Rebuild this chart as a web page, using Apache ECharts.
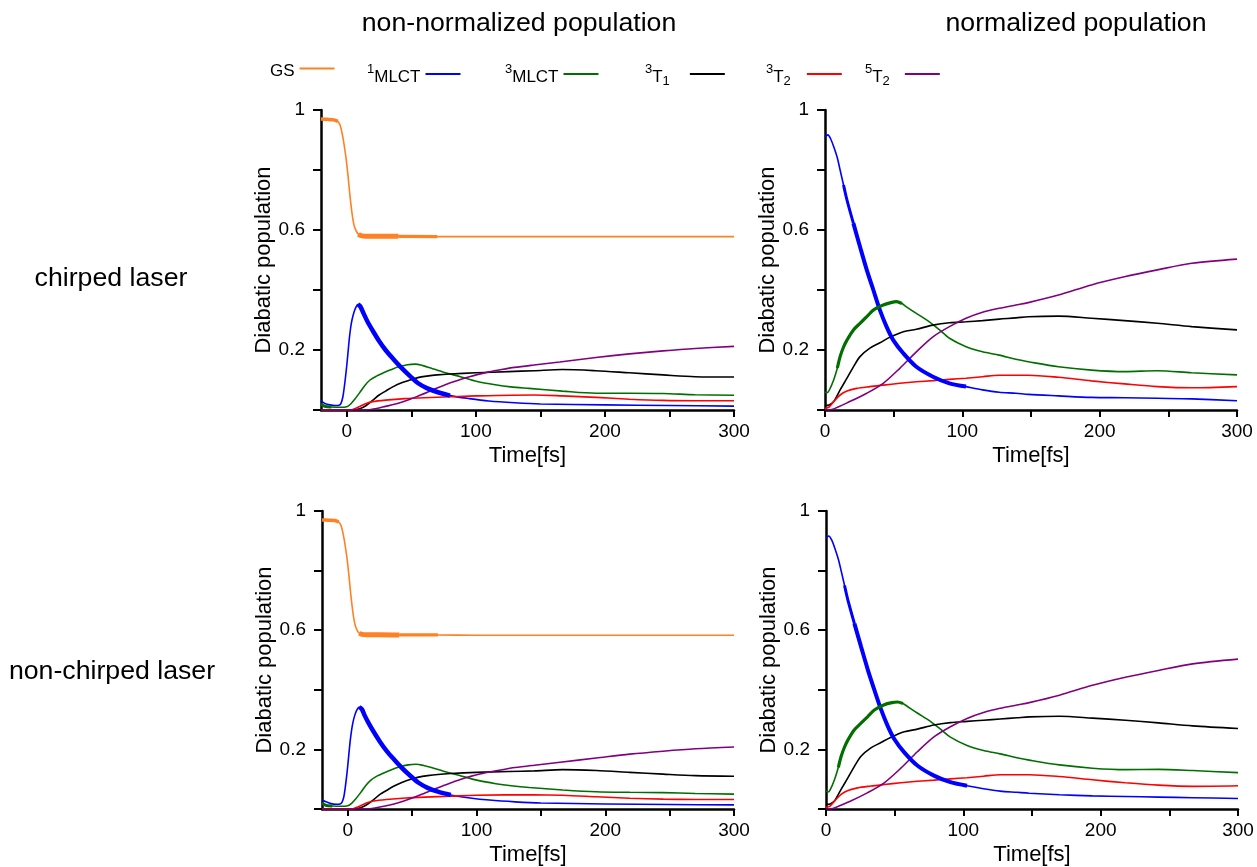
<!DOCTYPE html>
<html>
<head>
<meta charset="utf-8">
<script src="https://cdn.jsdelivr.net/npm/echarts@6/dist/echarts.min.js"></script>
<style>
  html, body { margin: 0; padding: 0; background: #fff; }
  #chart { width: 1257px; height: 867px; }
</style>
</head>
<body>
<div id="chart"></div>
<script>
// ---------- data: [time (fs), diabatic population] ----------

// chirped laser, non-normalized
const gsChirpRaw = [[-20,0.97],[-15,0.969],[-10,0.967],[-7,0.962],[-5,0.947],[-3,0.908],[-1,0.852],[0,0.818],[1,0.778],[2,0.733],[3,0.692],[4,0.657],[5,0.629],[6,0.61],[7.5,0.595],[9,0.586],[11,0.581],[15,0.579],[25,0.579],[40,0.579],[70,0.578],[100,0.578],[200,0.578],[300,0.578]];
const mlct1ChirpRaw = [[-20,0.031],[-17,0.022],[-13,0.017],[-9,0.015],[-6,0.016],[-4.5,0.022],[-3,0.045],[-2,0.075],[-1,0.11],[0,0.15],[1,0.195],[2,0.24],[3,0.275],[4,0.3],[5.5,0.325],[7,0.342],[8.7,0.352],[10.5,0.345],[13,0.322],[16,0.295],[20,0.265],[25,0.23],[30,0.2],[36,0.17],[42,0.142],[49,0.113],[55,0.09],[62,0.073],[70,0.06],[80,0.048],[95,0.038],[110,0.03],[130,0.024],[150,0.02],[200,0.017],[250,0.015],[300,0.013]];
const mlct3ChirpRaw = [[-20,0.02],[-17,0.012],[-12,0.01],[-5,0.009],[0,0.011],[3,0.02],[6,0.035],[10,0.058],[14,0.082],[18,0.1],[23,0.113],[28,0.123],[34,0.134],[40,0.144],[47,0.151],[53,0.153],[59,0.148],[65,0.14],[75,0.126],[88,0.111],[101,0.095],[115,0.084],[127,0.077],[141,0.072],[167,0.063],[193,0.056],[219,0.056],[245,0.055],[270,0.051],[300,0.049]];
const t1ChirpRaw = [[-20,0],[5,0],[10,0.004],[15,0.015],[20,0.032],[25,0.05],[30,0.063],[36,0.078],[42,0.09],[49,0.1],[55,0.108],[62,0.113],[70,0.117],[80,0.12],[100,0.124],[125,0.128],[145,0.131],[167,0.135],[193,0.131],[219,0.124],[245,0.117],[270,0.111],[300,0.11]];
const t2ChirpRaw = [[-20,0],[3,0],[6,0.004],[10,0.012],[15,0.022],[20,0.028],[30,0.033],[45,0.038],[60,0.041],[80,0.044],[100,0.047],[145,0.05],[167,0.047],[193,0.042],[219,0.036],[245,0.032],[270,0.031],[300,0.031]];
const q2ChirpRaw = [[-20,0],[15,0],[23,0.005],[30,0.012],[36,0.018],[43,0.027],[49,0.036],[55,0.046],[62,0.058],[68,0.07],[75,0.082],[82,0.093],[88,0.102],[95,0.111],[101,0.118],[110,0.127],[120,0.135],[130,0.142],[145,0.15],[165,0.16],[193,0.175],[219,0.187],[245,0.197],[270,0.205],[300,0.212]];

// chirped laser, normalized
const mlct1ChirpNorm = [[0,0.91],[2,0.917],[4,0.905],[6.3,0.878],[9,0.84],[11,0.8],[13.5,0.75],[16,0.7],[20.7,0.622],[25.5,0.544],[30.4,0.467],[35.2,0.4],[40,0.333],[44.8,0.278],[49.7,0.233],[57,0.189],[66.5,0.144],[78.6,0.111],[90.6,0.089],[102.7,0.078],[114.7,0.067],[126.8,0.059],[139,0.056],[148,0.052],[170,0.047],[194,0.042],[218,0.041],[242,0.039],[267,0.037],[300,0.031]];
const mlct3ChirpNorm = [[0,0.06],[1.5,0.058],[3,0.065],[6.3,0.1],[9,0.14],[11,0.178],[13.5,0.21],[16,0.233],[20.7,0.267],[25.5,0.289],[30.4,0.311],[35.2,0.333],[42.4,0.35],[48,0.358],[52,0.361],[56,0.355],[59.3,0.344],[66.5,0.322],[76,0.294],[83.4,0.267],[90.6,0.239],[102.7,0.211],[114.7,0.194],[126.8,0.183],[139,0.169],[148,0.161],[170,0.144],[194,0.133],[218,0.128],[242,0.131],[267,0.124],[300,0.117]];
const t1ChirpNorm = [[0,0.015],[3,0.017],[6.3,0.028],[11,0.067],[16,0.106],[20.7,0.144],[25.5,0.178],[32.7,0.206],[40,0.224],[47,0.242],[57,0.261],[66.5,0.269],[78.6,0.283],[90.6,0.291],[102.7,0.294],[114.7,0.298],[126.8,0.303],[139,0.307],[148,0.311],[170,0.313],[194,0.306],[218,0.298],[242,0.289],[267,0.278],[300,0.267]];
const t2ChirpNorm = [[0,0.005],[3,0.01],[6.3,0.028],[11,0.05],[16,0.063],[23,0.072],[32.7,0.078],[42.4,0.083],[54.5,0.089],[66.5,0.094],[78.6,0.098],[90.6,0.102],[102.7,0.106],[114.7,0.111],[126.8,0.116],[148,0.116],[170,0.109],[194,0.097],[218,0.087],[242,0.078],[267,0.074],[300,0.078]];
const q2ChirpNorm = [[0,0],[5,0.002],[18,0.028],[30.4,0.056],[42.4,0.089],[54.5,0.139],[66.5,0.194],[78.6,0.244],[90.6,0.278],[102.7,0.306],[114.7,0.326],[126.8,0.339],[139,0.35],[148,0.358],[170,0.383],[194,0.417],[218,0.444],[242,0.467],[267,0.489],[300,0.503]];

// non-chirped laser, non-normalized
const gsPlainRaw = [[-20,0.97],[-15,0.969],[-10,0.968],[-7,0.963],[-5,0.948],[-3,0.91],[-1,0.855],[0,0.82],[1,0.78],[2,0.735],[3,0.695],[4,0.66],[5,0.632],[6,0.613],[7.5,0.598],[9,0.59],[11,0.586],[15,0.585],[25,0.585],[40,0.584],[70,0.584],[100,0.583],[200,0.583],[300,0.583]];
const mlct1PlainRaw = [[-20,0.031],[-17,0.024],[-13,0.018],[-9,0.016],[-6,0.017],[-4.5,0.022],[-3,0.042],[-2,0.07],[-1,0.105],[0,0.145],[1,0.19],[2,0.232],[3,0.265],[4,0.29],[5.5,0.315],[7,0.332],[9,0.342],[11,0.335],[13,0.315],[16,0.29],[20,0.26],[25,0.226],[30,0.196],[36,0.166],[42,0.138],[49,0.11],[55,0.088],[62,0.071],[70,0.058],[80,0.047],[95,0.037],[110,0.03],[130,0.024],[150,0.02],[200,0.017],[250,0.015],[300,0.014]];
const mlct3PlainRaw = [[-20,0.02],[-17,0.012],[-12,0.01],[-5,0.009],[0,0.011],[3,0.019],[6,0.033],[10,0.055],[14,0.079],[18,0.097],[23,0.111],[28,0.121],[34,0.132],[40,0.141],[47,0.148],[53,0.15],[59,0.146],[65,0.139],[75,0.126],[88,0.111],[101,0.096],[115,0.085],[127,0.078],[141,0.072],[167,0.064],[193,0.058],[219,0.056],[245,0.055],[270,0.052],[300,0.05]];
const t1PlainRaw = [[-20,0],[5,0],[10,0.004],[15,0.015],[20,0.031],[25,0.049],[30,0.062],[36,0.077],[42,0.089],[49,0.1],[55,0.107],[62,0.112],[70,0.116],[80,0.119],[100,0.123],[125,0.126],[145,0.128],[167,0.132],[193,0.129],[219,0.123],[245,0.117],[270,0.112],[300,0.11]];
const t2PlainRaw = [[-20,0],[3,0],[6,0.004],[10,0.011],[15,0.021],[20,0.027],[30,0.032],[45,0.037],[60,0.04],[80,0.043],[100,0.046],[145,0.048],[167,0.046],[193,0.041],[219,0.036],[245,0.033],[270,0.032],[300,0.032]];
const q2PlainRaw = [[-20,0],[15,0],[23,0.005],[30,0.011],[36,0.017],[43,0.026],[49,0.035],[55,0.045],[62,0.057],[68,0.068],[75,0.08],[82,0.091],[88,0.1],[95,0.109],[101,0.116],[110,0.124],[120,0.132],[130,0.139],[145,0.147],[165,0.157],[193,0.171],[219,0.184],[245,0.194],[270,0.202],[300,0.208]];

// non-chirped laser, normalized
const mlct1PlainNorm = [[0,0.91],[2,0.916],[4,0.904],[6.3,0.877],[9,0.838],[11,0.8],[13.5,0.75],[16,0.7],[20.7,0.622],[25.5,0.545],[30.4,0.468],[35.2,0.4],[40,0.335],[44.8,0.28],[49.7,0.235],[57,0.19],[66.5,0.146],[78.6,0.112],[90.6,0.09],[102.7,0.078],[114.7,0.068],[126.8,0.06],[139,0.056],[148,0.053],[170,0.048],[194,0.044],[218,0.042],[242,0.04],[267,0.038],[300,0.035]];
const mlct3PlainNorm = [[0,0.06],[1.5,0.057],[3,0.064],[6.3,0.1],[9,0.14],[11,0.176],[13.5,0.208],[16,0.232],[20.7,0.266],[25.5,0.288],[30.4,0.31],[35.2,0.332],[42.4,0.35],[48,0.357],[52,0.359],[56,0.354],[59.3,0.344],[66.5,0.322],[76,0.294],[83.4,0.268],[90.6,0.241],[102.7,0.213],[114.7,0.196],[126.8,0.185],[139,0.172],[148,0.164],[170,0.148],[194,0.137],[218,0.132],[242,0.133],[267,0.129],[300,0.122]];
const t1PlainNorm = [[0,0.015],[3,0.017],[6.3,0.028],[11,0.066],[16,0.105],[20.7,0.143],[25.5,0.177],[32.7,0.205],[40,0.223],[47,0.24],[57,0.259],[66.5,0.268],[78.6,0.282],[90.6,0.29],[102.7,0.294],[114.7,0.298],[126.8,0.302],[139,0.306],[148,0.309],[170,0.311],[194,0.305],[218,0.298],[242,0.289],[267,0.279],[300,0.27]];
const t2PlainNorm = [[0,0.005],[3,0.01],[6.3,0.027],[11,0.049],[16,0.062],[23,0.071],[32.7,0.077],[42.4,0.082],[54.5,0.088],[66.5,0.093],[78.6,0.097],[90.6,0.101],[102.7,0.105],[114.7,0.11],[126.8,0.115],[148,0.115],[170,0.109],[194,0.098],[218,0.088],[242,0.08],[267,0.076],[300,0.078]];
const q2PlainNorm = [[0,0],[5,0.002],[18,0.027],[30.4,0.055],[42.4,0.088],[54.5,0.137],[66.5,0.192],[78.6,0.242],[90.6,0.276],[102.7,0.304],[114.7,0.324],[126.8,0.338],[139,0.349],[148,0.357],[170,0.382],[194,0.415],[218,0.442],[242,0.465],[267,0.487],[300,0.503]];

// axis ticks and labels
const timeTicks = [0, 50, 100, 150, 200, 250, 300];
const timeLabels = [0, 100, 200, 300];
const popLabels = [0.2, 0.6, 1];

const seriesNames = ['GS', '1MLCT', '3MLCT', '3T1', '3T2', '5T2'];
const columnTitles = ['non-normalized population', 'normalized population'];
const rowTitles = ['chirped laser', 'non-chirped laser'];

// ---------- styling ----------
const FONT = '"Liberation Sans", Arial, sans-serif';
const COLORS = {
  'GS': '#ff8124', '1MLCT': '#0000ff', '3MLCT': '#006f00',
  '3T1': '#000000', '3T2': '#ff0000', '5T2': '#800080'
};

// plot rectangles, x-range and the stretches where fast oscillation thickens a trace
const panels = [
  { rect: { left: 321, top: 110, width: 413, height: 300 }, xMin: -20,
    lines: { 'GS': gsChirpRaw, '1MLCT': mlct1ChirpRaw, '3MLCT': mlct3ChirpRaw, '3T1': t1ChirpRaw, '3T2': t2ChirpRaw, '5T2': q2ChirpRaw },
    bands: [['GS', -20, -7, 3.5], ['GS', 9, 40, 5], ['GS', 40, 70, 3.2], ['1MLCT', 8.7, 80, 4.5], ['3MLCT', -20, -12, 3]] },
  { rect: { left: 825, top: 110, width: 412, height: 300 }, xMin: 0,
    lines: { '1MLCT': mlct1ChirpNorm, '3MLCT': mlct3ChirpNorm, '3T1': t1ChirpNorm, '3T2': t2ChirpNorm, '5T2': q2ChirpNorm },
    bands: [['1MLCT', 13.5, 20.7, 3], ['1MLCT', 20.7, 110, 4], ['3MLCT', 9, 56, 3.2]] },
  { rect: { left: 322, top: 511, width: 412, height: 300 }, xMin: -20,
    lines: { 'GS': gsPlainRaw, '1MLCT': mlct1PlainRaw, '3MLCT': mlct3PlainRaw, '3T1': t1PlainRaw, '3T2': t2PlainRaw, '5T2': q2PlainRaw },
    bands: [['GS', -20, -7, 3.5], ['GS', 9, 40, 5], ['GS', 40, 70, 3.2], ['1MLCT', 9, 80, 4.5], ['3MLCT', -20, -12, 3]] },
  { rect: { left: 826, top: 511, width: 412, height: 300 }, xMin: 0,
    lines: { '1MLCT': mlct1PlainNorm, '3MLCT': mlct3PlainNorm, '3T1': t1PlainNorm, '3T2': t2PlainNorm, '5T2': q2PlainNorm },
    bands: [['1MLCT', 13.5, 20.7, 3], ['1MLCT', 20.7, 110, 4], ['3MLCT', 9, 56, 3.2]] }
];

const grids = [], xAxes = [], yAxes = [], series = [];

panels.forEach((p, i) => {
  grids.push(Object.assign({ containLabel: false }, p.rect));
  xAxes.push({
    type: 'value', gridIndex: i, min: p.xMin, max: 300,
    name: 'Time[fs]', nameLocation: 'middle', nameGap: 35,
    nameTextStyle: { fontFamily: FONT, fontSize: 22, color: '#000' },
    axisLine: { onZero: false, lineStyle: { color: '#000', width: 2.5 } },
    axisTick: { show: true, customValues: timeTicks, length: 7, lineStyle: { color: '#000', width: 2 } },
    axisLabel: { customValues: timeLabels, margin: 12, fontFamily: FONT, fontSize: 19, color: '#000' },
    splitLine: { show: false }
  });
  yAxes.push({
    type: 'value', gridIndex: i, min: 0, max: 1, interval: 0.2,
    name: 'Diabatic population', nameLocation: 'middle', nameGap: 46, nameRotate: 90,
    nameTextStyle: { fontFamily: FONT, fontSize: 22, color: '#000' },
    axisLine: { onZero: false, lineStyle: { color: '#000', width: 2.5 } },
    axisTick: { show: true, length: 8, lineStyle: { color: '#000', width: 2 } },
    axisLabel: {
      margin: 16, fontFamily: FONT, fontSize: 19, color: '#000',
      formatter: v => popLabels.some(l => Math.abs(l - v) < 1e-9) ? String(+v.toFixed(1)) : ''
    },
    splitLine: { show: false }
  });

  seriesNames.forEach(name => {
    const data = p.lines[name];
    if (!data) return;
    series.push({
      name, type: 'line', xAxisIndex: i, yAxisIndex: i, data,
      showSymbol: false, symbol: 'none', smooth: 0.3,
      lineStyle: { color: COLORS[name], width: 1.6 }, itemStyle: { color: COLORS[name] },
      emphasis: { disabled: true }, z: 2
    });
  });
  // thicker overlay where the trace is smeared by rapid oscillation
  p.bands.forEach(([name, a, b, w]) => {
    const data = p.lines[name].filter(d => d[0] >= a && d[0] <= b);
    series.push({
      name, type: 'line', xAxisIndex: i, yAxisIndex: i, data,
      showSymbol: false, symbol: 'none', smooth: 0.3,
      lineStyle: { color: COLORS[name], width: w }, itemStyle: { color: COLORS[name] },
      emphasis: { disabled: true }, z: 3
    });
  });
});

// legend entries: label text followed by a short line sample
const legendText = {
  'GS': '{b|GS}',
  '1MLCT': '{sup|1}{b|MLCT}',
  '3MLCT': '{sup|3}{b|MLCT}',
  '3T1': '{sup|3}{b|T}{sub|1}{gap1|}',
  '3T2': '{sup|3}{b|T}{sub|2}{gap2|}',
  '5T2': '{sup|5}{b|T}{sub|2}{gap3|}'
};
const legendLeft = { 'GS': 270, '1MLCT': 367, '3MLCT': 505, '3T1': 645, '3T2': 766, '5T2': 865 };
const legends = seriesNames.map(name => ({
  data: [name], left: legendLeft[name], top: 63, padding: 0, align: 'right',
  icon: 'rect', itemWidth: 35, itemHeight: 2, selectedMode: false,
  formatter: n => legendText[n],
  textStyle: {
    fontFamily: FONT, color: '#000',
    rich: {
      b: { fontFamily: FONT, fontSize: 17, padding: [6, 0, 0, 0] },
      sup: { fontFamily: FONT, fontSize: 13, padding: [0, 0, 9, 0] },
      sub: { fontFamily: FONT, fontSize: 13, padding: [14, 0, 0, 0] },
      gap1: { width: 15 },
      gap2: { width: 11 },
      gap3: { width: 10 }
    }
  }
}));

const titleText = (txt, x, y) => ({
  type: 'text', x, y,
  style: { text: txt, font: `26.7px ${FONT}`, fill: '#000', align: 'center', verticalAlign: 'middle' }
});
const graphics = [
  titleText(columnTitles[0], 519, 24),
  titleText(columnTitles[1], 1076, 24),
  titleText(rowTitles[0], 111, 279),
  titleText(rowTitles[1], 112, 672)
];

const chart = echarts.init(document.getElementById('chart'), null, { renderer: 'canvas' });
chart.setOption({
  animation: false,
  backgroundColor: '#fff',
  grid: grids, xAxis: xAxes, yAxis: yAxes,
  legend: legends,
  series,
  graphic: graphics
});
</script>
</body>
</html>
